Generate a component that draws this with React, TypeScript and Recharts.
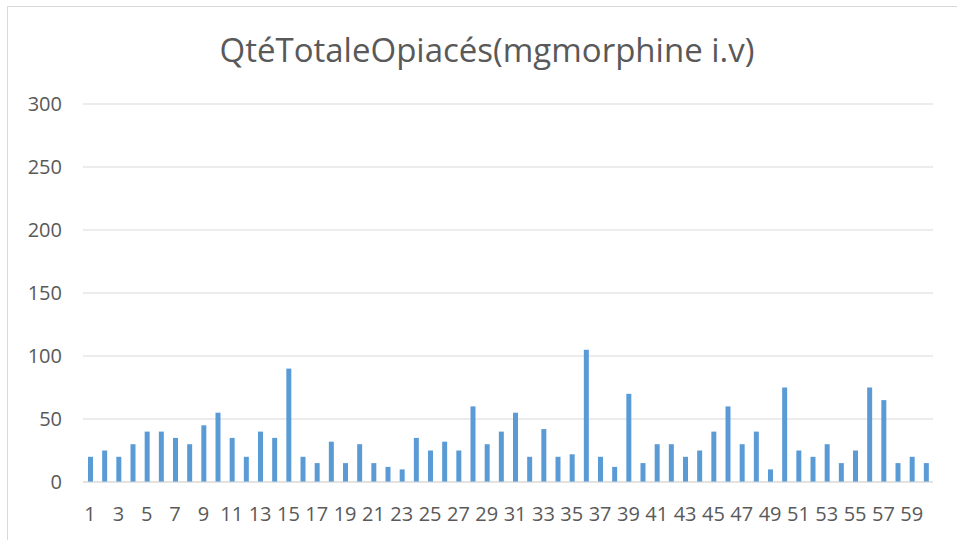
import React from 'react';
import { BarChart, Bar, XAxis, YAxis, CartesianGrid } from 'recharts';

const patients = Array.from({ length: 60 }, (_, i) => String(i + 1));

const doses = [
  20, 25, 20, 30, 40, 40, 35, 30, 45, 55,
  35, 20, 40, 35, 90, 20, 15, 32, 15, 30,
  15, 12, 10, 35, 25, 32, 25, 60, 30, 40,
  55, 20, 42, 20, 22, 105, 20, 12, 70, 15,
  30, 30, 20, 25, 40, 60, 30, 40, 10, 75,
  25, 20, 30, 15, 25, 75, 65, 15, 20, 15,
];

const yTicks = [0, 50, 100, 150, 200, 250, 300];

const title = 'QtéTotaleOpiacés(mgmorphine i.v)';

const data = patients.map((p, i) => ({ label: p, value: doses[i] }));

const FONT = '"Open Sans", "Noto Sans", sans-serif';
const TEXT = '#595959';

export default function App() {
  return (
    <div style={{ position: 'fixed', left: 0, top: 0, width: 957, height: 540, overflow: 'hidden', background: '#fff' }}>
      <div style={{ position: 'absolute', left: 7, top: 6, width: 980, height: 600, border: '1px solid #d9d9d9' }} />
      <div
        style={{
          position: 'absolute', left: 0, top: 27, width: 974, textAlign: 'center',
          fontFamily: FONT, fontSize: 33, color: TEXT, lineHeight: '46px',
        }}
      >
        {title}
      </div>
      <div style={{ position: 'absolute', left: 0, top: 0 }}>
        <BarChart width={957} height={540} data={data} margin={{ top: 104, right: 24, left: 8, bottom: 18 }}>
          <CartesianGrid vertical={false} stroke="#d9d9d9" />
          <XAxis
            dataKey="label"
            interval={1}
            tickLine={false}
            stroke="#d9d9d9"
            height={40}
            tickMargin={19}
            tick={{ fill: TEXT, fontSize: 20, fontFamily: FONT }}
          />
          <YAxis
            domain={[0, 300]}
            ticks={yTicks}
            axisLine={false}
            tickLine={false}
            width={75}
            tickMargin={15}
            tick={{ fill: TEXT, fontSize: 20, fontFamily: FONT }}
          />
          <Bar dataKey="value" fill="#5b9bd5" barSize={5} isAnimationActive={false} />
        </BarChart>
      </div>
    </div>
  );
}
